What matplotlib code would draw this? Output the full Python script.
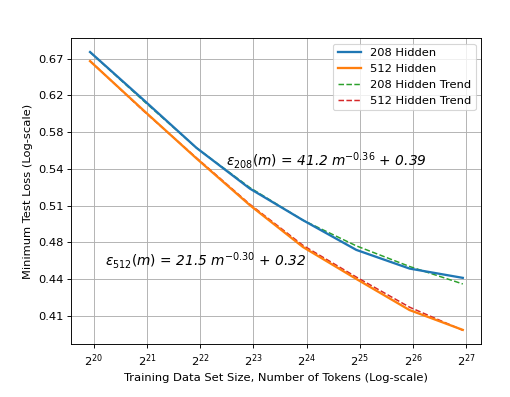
import numpy as np
import matplotlib
matplotlib.use("Agg")
from matplotlib import pyplot as plt
from matplotlib.ticker import NullLocator, NullFormatter

# 数式のテキストは斜体にする
plt.rcParams['mathtext.default'] = 'it'

# データ (学習トークン数と最小テストロス)
tokens = [1e6, 2e6, 4e6, 8e6, 1.6e7, 3.2e7, 6.4e7, 1.28e8]
loss_208 = [0.6786, 0.6196, 0.5650, 0.5228, 0.4921, 0.4650, 0.4487, 0.4408]
loss_512 = [0.6669, 0.6073, 0.5537, 0.5065, 0.4675, 0.4399, 0.4145, 0.3991]
trend_208 = [0.6786, 0.6184, 0.5650, 0.5238, 0.4921, 0.4686, 0.4505, 0.4357]
trend_512 = [0.6672, 0.6066, 0.5543, 0.5074, 0.4690, 0.4415, 0.4168, 0.3988]

ytick_labels = ['0.41', '0.44', '0.48', '0.51', '0.54', '0.58', '0.62', '0.67']

dpi = 82.7
fig, ax = plt.subplots(figsize=(510 / dpi, 397 / dpi), dpi=dpi)
fig.subplots_adjust(left=0.14, right=0.944, bottom=0.133, top=0.904)

ax.plot(tokens, loss_208, color='C0', lw=2, label='208 Hidden', zorder=3)
ax.plot(tokens, loss_512, color='C1', lw=2, label='512 Hidden', zorder=3)
ax.plot(tokens, trend_208, color='C2', lw=1.3, ls='--', label='208 Hidden Trend', zorder=2)
ax.plot(tokens, trend_512, color='C3', lw=1.3, ls='--', label='512 Hidden Trend', zorder=2)

ax.set_xscale('log', base=2)
ax.set_yscale('log')
ax.set_xticks([2.0 ** k for k in range(20, 28)])

# y軸の目盛りは等間隔(対数)にする
ax.set_yticks(np.geomspace(0.41, 0.67, len(ytick_labels)))
ax.set_yticklabels(ytick_labels)
ax.yaxis.set_minor_locator(NullLocator())
ax.yaxis.set_minor_formatter(NullFormatter())

ax.grid(True)

ax.text(0.378, 0.6, r'$\epsilon_{208}(m)$ = 41.2 m$^{-0.36}$ + 0.39',
        transform=ax.transAxes, fontsize=12, style='italic', va='center')
ax.text(0.083, 0.275, r'$\epsilon_{512}(m)$ = 21.5 m$^{-0.30}$ + 0.32',
        transform=ax.transAxes, fontsize=12, style='italic', va='center')

ax.set_xlabel('Training Data Set Size, Number of Tokens (Log-scale)')
ax.set_ylabel('Minimum Test Loss (Log-scale)')
ax.legend(loc='upper right')

fig.savefig('out.png', dpi=dpi)
